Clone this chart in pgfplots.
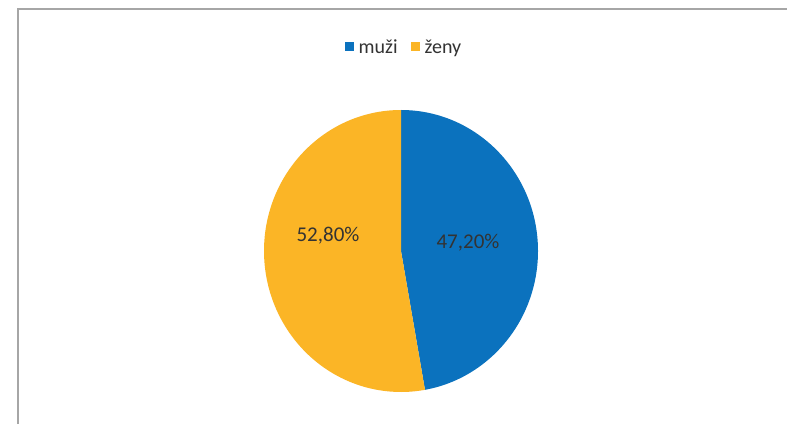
\documentclass[border=0pt]{standalone}
\usepackage{fontspec}
\setmainfont{Carlito}
\usepackage{pgfplots}
\pgfplotsset{compat=1.18}
\definecolor{muzi}{HTML}{0B72BE}
\definecolor{zeny}{HTML}{FBB526}
\definecolor{txt}{HTML}{333333}
\definecolor{frcol}{HTML}{A6A6A6}
\begin{document}
\begin{tikzpicture}
\fill[white] (0,0) rectangle (787pt,424pt);
\begin{axis}[
  name=ax, at={(0,0)}, anchor=south west,
  scale only axis, width=787pt, height=424pt,
  xmin=0, xmax=787, ymin=0, ymax=424,
  hide axis, clip=false,
  legend style={at={(axis cs:404,377)}, anchor=center, draw=none,
    legend columns=2, font=\fontsize{20}{22}\selectfont,
    text=txt,
    /tikz/every odd column/.append style={column sep=3pt},
    /tikz/every even column/.append style={column sep=11pt},
    inner sep=0pt},
  legend image code/.code={\fill[#1] (0pt,-4.5pt) rectangle (9pt,4.5pt);},
]
\def\pA{47.2}
\def\pB{52.8}
\addlegendimage{fill=muzi, draw=none}
\addlegendentry{muži}
\addlegendimage{fill=zeny, draw=none}
\addlegendentry{ženy}
\draw[draw=frcol, line width=2pt] (axis cs:18,0) -- (axis cs:18,415) -- (axis cs:787,415);
\fill[muzi] (axis cs:401,173) -- ++(0pt,141pt)
  arc[start angle=90, end angle={90-3.6*\pA}, x radius=137pt, y radius=141pt] -- cycle;
\fill[zeny] (axis cs:401,173) -- ++(0pt,141pt)
  arc[start angle=90, end angle={90+3.6*\pB}, x radius=137pt, y radius=141pt] -- cycle;
\node[font=\fontsize{21}{24}\selectfont, text=txt] at (axis cs:468,181) {47,20\%};
\node[font=\fontsize{21}{24}\selectfont, text=txt] at (axis cs:328,188) {52,80\%};
\end{axis}
\pgfresetboundingbox
\path (0,0) rectangle (787pt,424pt);
\end{tikzpicture}
\end{document}
